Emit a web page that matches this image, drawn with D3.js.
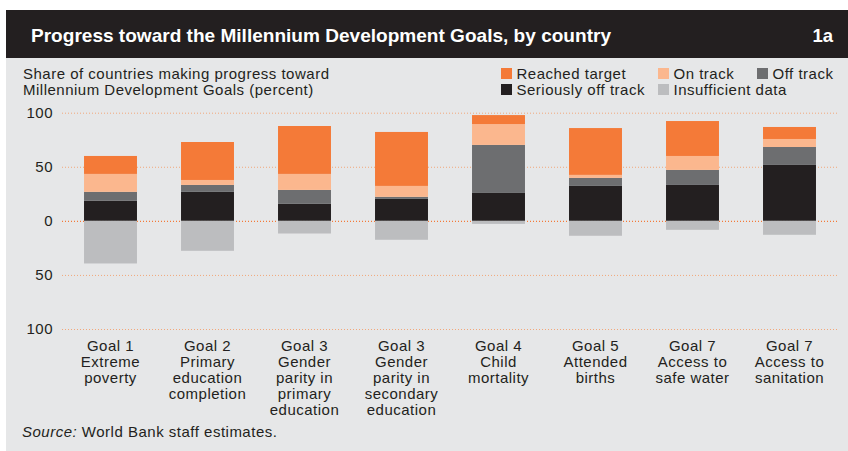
<!DOCTYPE html>
<html>
<head>
<meta charset="utf-8">
<script src="https://cdn.jsdelivr.net/npm/d3@7"></script>
<style>
  body { margin: 0; background: #fff; }
  svg { display: block; }
  .body-text { font-family: "Liberation Sans", Arial, sans-serif; fill: #231f20; letter-spacing: 0.5px; }
</style>
</head>
<body>
<div id="grafico"></div>
<script>
// Datos (porcentaje de países)
const goals = [
  ['Goal 1', 'Extreme', 'poverty'],
  ['Goal 2', 'Primary', 'education', 'completion'],
  ['Goal 3', 'Gender', 'parity in', 'primary', 'education'],
  ['Goal 3', 'Gender', 'parity in', 'secondary', 'education'],
  ['Goal 4', 'Child', 'mortality'],
  ['Goal 5', 'Attended', 'births'],
  ['Goal 7', 'Access to', 'safe water'],
  ['Goal 7', 'Access to', 'sanitation']
];
const seriouslyOff = [18.5, 26.8, 15.7, 20.3, 25.8, 32.3, 33.2, 51.7];
const offTrack = [8.3, 6.4, 12.9, 1.9, 44.4, 7.4, 13.9, 16.6];
const onTrack = [16.6, 4.6, 14.8, 10.1, 19.3, 2.8, 12.9, 7.4];
const reached = [16.6, 35.1, 44.3, 49.9, 8.3, 43.3, 32.3, 11.1];
const insufficient = [39.4, 27.7, 11.7, 17.5, 2.8, 13.8, 8.3, 12.9];
const yTicks = [-100, -50, 0, 50, 100];

const keys = ['seriously', 'off', 'on', 'reached', 'insufficient'];
const colors = {
  reached: '#f47a38', on: '#fbb78e', off: '#6d6e70',
  seriously: '#231f20', insufficient: '#bcbdbf'
};

const w = 848, h = 451;

const svg = d3.select('#grafico').append('svg')
  .attr('width', w).attr('height', h);

/*Fondo y encabezado*/
svg.append('rect').attr('x', 6).attr('y', 57).attr('width', w - 6).attr('height', 394).attr('fill', '#e6e7e8');
svg.append('rect').attr('x', 6).attr('y', 10).attr('width', w - 6).attr('height', 48).attr('fill', '#231f20');

svg.append('text')
  .attr('x', 31).attr('y', 42)
  .attr('textLength', 580).attr('lengthAdjust', 'spacingAndGlyphs')
  .style('font-family', '"Liberation Sans", Arial, sans-serif')
  .style('font-weight', 'bold').style('font-size', '18.5px')
  .attr('fill', '#fff')
  .text('Progress toward the Millennium Development Goals, by country');

svg.append('text')
  .attr('x', 833).attr('y', 42).attr('text-anchor', 'end')
  .style('font-family', '"Liberation Sans", Arial, sans-serif')
  .style('font-weight', 'bold').style('font-size', '18.5px')
  .attr('fill', '#fff')
  .text('1a');

/*Subtítulo*/
svg.append('text').attr('class', 'body-text')
  .attr('x', 23).attr('y', 79).style('font-size', '15px')
  .text('Share of countries making progress toward');
svg.append('text').attr('class', 'body-text')
  .attr('x', 23).attr('y', 95).style('font-size', '15px')
  .text('Millennium Development Goals (percent)');

/*Leyenda*/
const legend = [
  { key: 'reached', label: 'Reached target', x: 501, y: 68 },
  { key: 'on', label: 'On track', x: 658, y: 68 },
  { key: 'off', label: 'Off track', x: 757, y: 68 },
  { key: 'seriously', label: 'Seriously off track', x: 501, y: 84 },
  { key: 'insufficient', label: 'Insufficient data', x: 658, y: 84 }
];
const lg = svg.append('g').selectAll('g').data(legend).enter().append('g');
lg.append('rect')
  .attr('x', d => d.x).attr('y', d => d.y)
  .attr('width', 11).attr('height', 11)
  .attr('fill', d => colors[d.key]);
lg.append('text').attr('class', 'body-text')
  .attr('x', d => d.x + 15.5).attr('y', d => d.y + 11)
  .style('font-size', '15px')
  .text(d => d.label);

/*Escalas*/
const xScale = d3.scaleBand()
  .domain(d3.range(goals.length))
  .range([62, 838])
  .paddingInner(0.454)
  .paddingOuter(0.227);

const yScale = d3.scaleLinear()
  .domain([-100, 100])
  .range([329, 112.7]);

/*Líneas de cuadrícula*/
const grid = svg.append('g')
  .attr('transform', 'translate(62,0)')
  .call(d3.axisRight(yScale).tickValues(yTicks).tickSize(776).tickFormat(''));
grid.select('.domain').remove();
grid.selectAll('line')
  .attr('stroke', d => d === 0 ? '#f47a38' : '#f2a77a')
  .attr('stroke-width', d => d === 0 ? 1.4 : 1)
  .attr('stroke-dasharray', '1,2');

/*Barras apiladas*/
const table = goals.map((g, i) => ({
  i: i,
  seriously: seriouslyOff[i],
  off: offTrack[i],
  on: onTrack[i],
  reached: reached[i],
  insufficient: -insufficient[i]
}));

const series = d3.stack().keys(keys).offset(d3.stackOffsetDiverging)(table);

svg.append('g').selectAll('g')
  .data(series)
  .enter().append('g')
  .attr('fill', d => colors[d.key])
  .selectAll('rect')
  .data(d => d)
  .enter().append('rect')
  .attr('x', d => xScale(d.data.i))
  .attr('width', xScale.bandwidth())
  .attr('y', d => yScale(Math.max(d[0], d[1])))
  .attr('height', d => Math.abs(yScale(d[0]) - yScale(d[1])));

/*Eje Y*/
const yAxis = svg.append('g')
  .attr('transform', 'translate(62,0)')
  .call(d3.axisLeft(yScale).tickValues(yTicks).tickSize(0).tickPadding(9).tickFormat(d => Math.abs(d)));
yAxis.select('.domain').remove();
yAxis.selectAll('text')
  .attr('class', 'body-text')
  .style('font-size', '15px')
  .attr('fill', '#231f20');

/*Etiquetas del eje X*/
const xLabels = svg.append('g').selectAll('text')
  .data(goals)
  .enter().append('text')
  .attr('class', 'body-text')
  .attr('text-anchor', 'middle')
  .style('font-size', '15px')
  .attr('x', (d, i) => xScale(i) + xScale.bandwidth() / 2)
  .attr('y', 351);
xLabels.selectAll('tspan')
  .data(d => d)
  .enter().append('tspan')
  .attr('x', function () { return this.parentNode.getAttribute('x'); })
  .attr('dy', (d, i) => i === 0 ? 0 : 16)
  .text(d => d);

/*Fuente*/
const src = svg.append('text').attr('class', 'body-text')
  .attr('x', 22).attr('y', 437).style('font-size', '15px');
src.append('tspan').style('font-style', 'italic').text('Source:');
src.append('tspan').text(' World Bank staff estimates.');
</script>
</body>
</html>
